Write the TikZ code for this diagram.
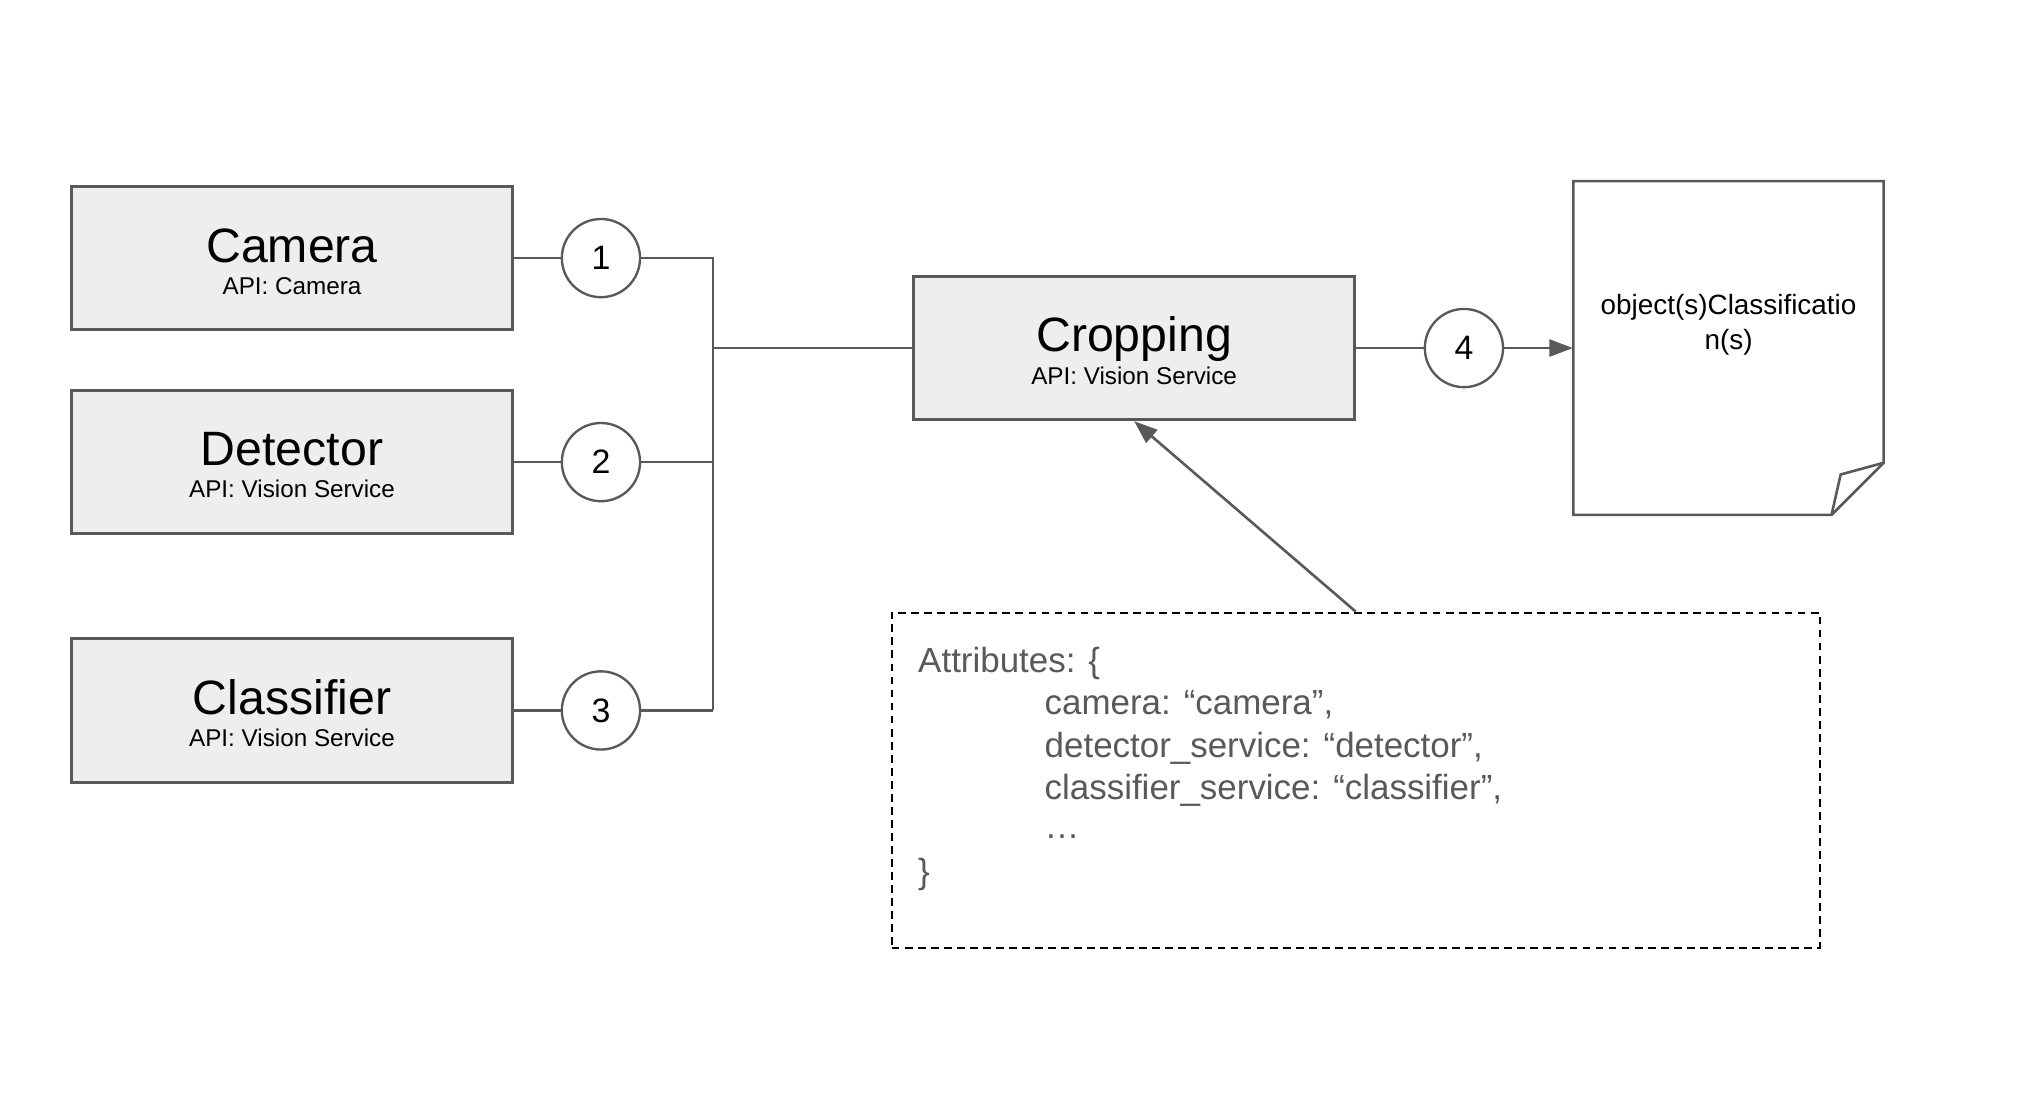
\documentclass[tikz,border=0pt]{standalone}
\usepackage{fontspec}
\setmainfont{Liberation Sans}
\usetikzlibrary{arrows.meta}
\definecolor{linegray}{HTML}{595959}
\definecolor{boxfill}{HTML}{EEEEEE}
\begin{document}
\begin{tikzpicture}[x=0.5pt,y=-0.5pt,
 box/.style={draw=linegray, line width=1.1pt, fill=boxfill, minimum width=169pt, minimum height=55pt, inner sep=0pt},
 titletext/.style={font=\fontsize{18.5}{22}\selectfont, anchor=base, inner sep=0pt},
 subtext/.style={font=\fontsize{9.3}{11}\selectfont, anchor=base, inner sep=0pt},
 numcirc/.style={circle, draw=linegray, line width=0.9pt, fill=white, minimum size=30pt, inner sep=0pt, font=\fontsize{13}{15}\selectfont},
 conn/.style={draw=linegray, line width=1pt},
 tipped/.style={-{Triangle[length=9pt,width=6.5pt]}},
 attr/.style={font=\fontsize{13.4}{16}\selectfont, text=linegray, anchor=base west, inner sep=0pt},
 doctext/.style={font=\fontsize{10.7}{13}\selectfont, anchor=base, inner sep=0pt}
]
\useasboundingbox (0,0) rectangle (1568,838);

% boxes
\node[box] (cam) at (224,198) {};
\node[titletext] (camt) at (224,201) {Camera};
\node[subtext] (cams) at (224,226) {API: Camera};

\node[box] (det) at (224,354.5) {};
\node[titletext] (dett) at (224,357) {Detector};
\node[subtext] (dets) at (224,382) {API: Vision Service};

\node[box] (cls) at (224,545) {};
\node[titletext] (clst) at (224,548) {Classifier};
\node[subtext] (clss) at (224,573) {API: Vision Service};

\node[box] (crop) at (870,267) {};
\node[titletext] (cropt) at (870,270) {Cropping};
\node[subtext] (crops) at (870,295) {API: Vision Service};

% circles
\node[numcirc] (n1) at (461,198) {1};
\node[numcirc] (n2) at (461,354.5) {2};
\node[numcirc] (n3) at (461,545) {3};
\node[numcirc] (n4) at (1123,267) {4};

% bus
\coordinate (bt) at (547,198);
\coordinate (bm) at (547,267);
\coordinate (b2) at (547,354.5);
\coordinate (bb) at (547,545);

\draw[conn] (cam.east) -- (n1.west);
\draw[conn] (det.east) -- (n2.west);
\draw[conn] (cls.east) -- (n3.west);
\draw[conn] (n1.east) -- (bt) -- (bb);
\draw[conn] (n2.east) -- (b2);
\draw[conn] (n3.east) -- (bb);
\draw[conn] (bm) -- (crop.west);
\draw[conn] (crop.east) -- (n4.west);

% document
\node[minimum width=119pt, minimum height=128pt, inner sep=0pt] (doc) at (1326,267) {};
\draw[draw=linegray, line width=1pt, fill=white] (1207,139) -- (1445,139) -- (1445,355) -- (1405,395) -- (1207,395) -- cycle;
\draw[draw=linegray, line width=1pt] (1445,355) -- (1412,364) -- (1405,395);
\node[doctext] (doct1) at (1326,241) {object(s)Classificatio};
\node[doctext] (doct2) at (1326,268) {n(s)};

\draw[conn, tipped, fill=linegray] (n4.east) -- (doc.west);

% attributes
\node[draw=black, line width=0.8pt, dash pattern=on 3pt off 2pt, minimum width=356pt, minimum height=128.5pt, inner sep=0pt] (attrbox) at (1040,598.5) {};
\node[attr] (a1) at (704,516) {Attributes: \{};
\node[attr] (a2) at (801,548) {camera: “camera”,};
\node[attr] (a3) at (801,581) {detector\_service: “detector”,};
\node[attr] (a4) at (801,613) {classifier\_service: “classifier”,};
\node[attr] (a5) at (801,643) {…};
\node[attr] (a6) at (704,678) {\}};

\draw[conn, tipped, fill=linegray] (attrbox.north) -- (crop.south);
\end{tikzpicture}
\end{document}
